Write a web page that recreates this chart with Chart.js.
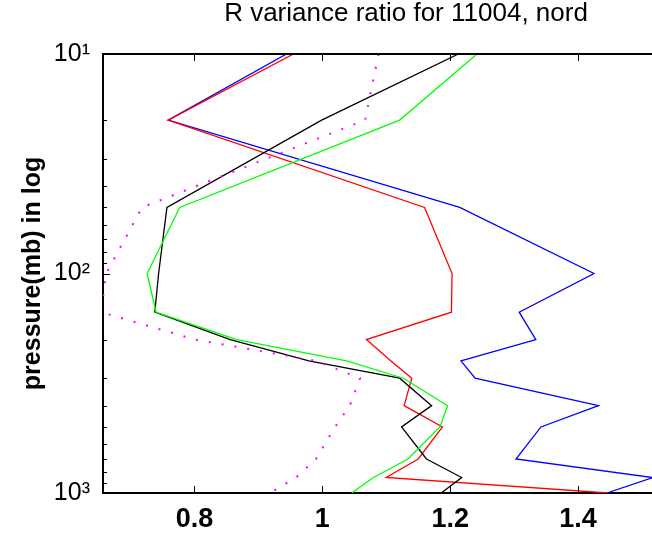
<!DOCTYPE html>
<html>
<head>
<meta charset="utf-8">
<script src="https://cdn.jsdelivr.net/npm/chart.js@4/dist/chart.umd.min.js"></script>
<style>
  html, body { margin: 0; padding: 0; background: #fff; }
  #wrap { width: 652px; height: 536px; overflow: hidden; position: relative; }
</style>
</head>
<body>
<div id="wrap">
  <canvas id="ratio-chart" width="812" height="536"></canvas>
</div>
<script>
// pressure levels (mb)
const pressure = [10, 20, 50, 100, 150, 200, 250, 300, 400, 500, 700, 850, 1000];

// variance ratio per level, one array per curve
const blueRatio    = [0.944, 0.759, 1.215, 1.425, 1.308, 1.334, 1.217, 1.239, 1.432, 1.342, 1.303, 1.517, 1.445];
const redRatio     = [0.955, 0.759, 1.160, 1.203, 1.202, 1.069, 1.107, 1.140, 1.128, 1.188, 1.150, 1.100, 1.447];
const blackRatio   = [1.213, 0.999, 0.757, 0.744, 0.738, 0.856, 0.979, 1.121, 1.171, 1.124, 1.163, 1.218, 1.186];
const greenRatio   = [1.242, 1.121, 0.777, 0.726, 0.740, 0.866, 1.038, 1.127, 1.196, 1.184, 1.134, 1.080, 1.046];
const magentaRatio = [1.088, 1.067, 0.718, 0.662, 0.654, 0.801, 0.990, 1.059, 1.043, 1.020, 0.990, 0.959, 0.918];

// axis ticks
const xTicks = [0.8, 1, 1.2, 1.4];
const yTicks = [10, 100, 1000];
const yMinorTicks = [20, 30, 40, 50, 60, 70, 80, 90, 200, 300, 400, 500, 600, 700, 800, 900];
const supDigits = { 1: '\u00b9', 2: '\u00b2', 3: '\u00b3' };

const FONT = "'Liberation Sans', Arial, sans-serif";

function toPoints(values) {
    return values.map((v, i) => ({ x: v, y: pressure[i] }));
}

function lineSet(values, color, dash) {
    return {
        data: toPoints(values),
        borderColor: color,
        borderWidth: dash ? 2 : 1.3,
        borderDash: dash || [],
        pointRadius: 0,
        tension: 0,
        fill: false
    };
}

// MATLAB style box: ticks pointing inward + top border
const insideTicks = {
    id: 'insideTicks',
    afterDraw(chart) {
        const { ctx, chartArea: a, scales: { x, y } } = chart;
        ctx.save();
        ctx.strokeStyle = '#000';
        ctx.lineWidth = 1;
        ctx.beginPath();
        xTicks.forEach(v => {
            const px = Math.round(x.getPixelForValue(v)) + 0.5;
            ctx.moveTo(px, a.bottom); ctx.lineTo(px, a.bottom - 7);
            ctx.moveTo(px, a.top); ctx.lineTo(px, a.top + 7);
        });
        yTicks.forEach(p => {
            const py = Math.round(y.getPixelForValue(p)) + 0.5;
            ctx.moveTo(a.left, py); ctx.lineTo(a.left + 7, py);
        });
        yMinorTicks.forEach(p => {
            const py = Math.round(y.getPixelForValue(p)) + 0.5;
            ctx.moveTo(a.left, py); ctx.lineTo(a.left + 4, py);
        });
        ctx.stroke();

        ctx.lineWidth = 2;
        ctx.beginPath();
        ctx.moveTo(a.left - 1, a.top);
        ctx.lineTo(a.right, a.top);
        ctx.stroke();
        ctx.restore();
    }
};

const ctx = document.getElementById('ratio-chart').getContext('2d');
new Chart(ctx, {
    type: 'line',
    data: {
        datasets: [
            lineSet(magentaRatio, '#ff00ff', [2, 11]),
            lineSet(greenRatio, '#00ff00'),
            lineSet(blackRatio, '#000000'),
            lineSet(redRatio, '#ff0000'),
            lineSet(blueRatio, '#0000ff')
        ]
    },
    options: {
        responsive: false,
        animation: false,
        devicePixelRatio: 1,
        layout: { padding: 0 },
        plugins: {
            legend: { display: false },
            tooltip: { enabled: false },
            title: {
                display: true,
                text: 'R variance ratio for 11004, nord',
                color: '#000',
                font: { family: FONT, size: 26, weight: 'normal', lineHeight: 1 },
                padding: { top: 1, bottom: 27 }
            }
        },
        scales: {
            x: {
                type: 'linear',
                min: 0.657,
                max: 1.766,
                afterBuildTicks: s => { s.ticks = xTicks.map(v => ({ value: v })); },
                afterFit: s => { s.height = 43; },
                grid: { display: false, drawTicks: false },
                border: { display: true, color: '#000', width: 2 },
                ticks: {
                    color: '#000',
                    padding: 13,
                    maxRotation: 0,
                    font: { family: FONT, size: 27, weight: 'bold', lineHeight: 1 },
                    callback: v => String(v)
                }
            },
            y: {
                type: 'logarithmic',
                reverse: true,
                min: 10,
                max: 1000,
                afterBuildTicks: s => { s.ticks = yTicks.map(v => ({ value: v })); },
                afterFit: s => { s.width = 103; },
                grid: { display: false, drawTicks: false },
                border: { display: true, color: '#000', width: 2 },
                title: {
                    display: true,
                    text: 'pressure(mb) in log',
                    color: '#000',
                    font: { family: FONT, size: 25, weight: 'bold', lineHeight: 1.2 },
                    padding: { top: 18, bottom: 0 }
                },
                ticks: {
                    color: '#000',
                    padding: 13,
                    font: { family: FONT, size: 25, weight: 'normal', lineHeight: 1 },
                    callback: v => '10' + supDigits[Math.round(Math.log10(v))]
                }
            }
        }
    },
    plugins: [insideTicks]
});
</script>
</body>
</html>
